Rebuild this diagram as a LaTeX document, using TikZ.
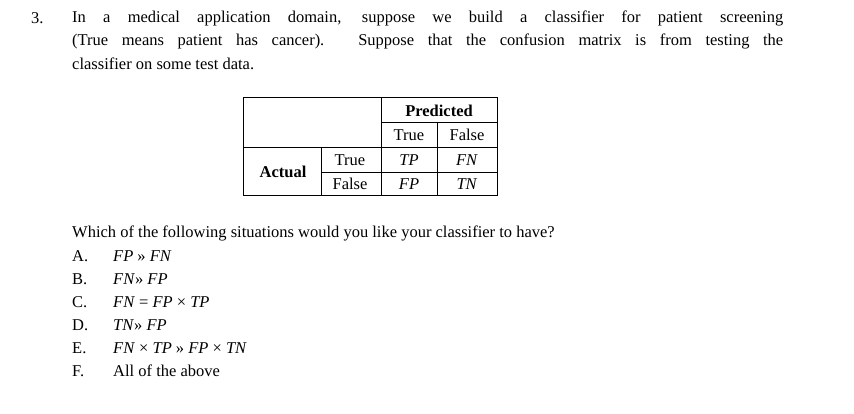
\documentclass[tikz,border=0pt]{standalone}
\usepackage{fontspec}
\setmainfont{Liberation Serif}
\begin{document}
\begin{tikzpicture}[x=1pt,y=-1pt,
  txt/.style={anchor=west,inner sep=0pt,font=\fontsize{16.5}{20}\selectfont},
  cell/.style={inner sep=0pt,font=\fontsize{16.5}{20}\selectfont}]
\useasboundingbox[fill=white] (0,0) rectangle (854,414);
\node[txt] (n3) at (31,18) {3.};
\node[txt] (l1) at (72,18) {\makebox[711pt][s]{In a medical application domain, suppose we build a classifier for patient screening}};
\node[txt] (l2) at (72,41) {\makebox[711pt][s]{(True means patient has cancer). Suppose that the confusion matrix is from testing the}};
\node[txt] (l3) at (72,64) {classifier on some test data.};
% table
\draw[line width=1pt] (243,98) rectangle (497,196);
\draw[line width=0.8pt] (381,98) -- (381,196) (437,122) -- (437,196) (321,147) -- (321,196)
  (381,122) -- (497,122) (243,147) -- (497,147) (321,172) -- (497,172);
\node[cell] (pred) at (439,111) {\textbf{Predicted}};
\node[cell] (pt) at (409,135) {True};
\node[cell] (pf) at (467,135) {False};
\node[cell] (act) at (283,172) {\textbf{Actual}};
\node[cell] (at) at (350,160) {True};
\node[cell] (af) at (350,184) {False};
\node[cell] (tp) at (409,160) {\textit{TP}};
\node[cell] (fn) at (467,160) {\textit{FN}};
\node[cell] (fp) at (409,184) {\textit{FP}};
\node[cell] (tn) at (467,184) {\textit{TN}};
% question
\node[txt] (q) at (72,233) {Which of the following situations would you like your classifier to have?};
\node[txt] (a) at (72,256) {A.};  \node[txt] (at2) at (113,256) {\textit{FP} >> \textit{FN}};
\node[txt] (b) at (72,279) {B.};  \node[txt] (bt) at (113,279) {\textit{FN}>> \textit{FP}};
\node[txt] (c) at (72,302) {C.};  \node[txt] (ct) at (113,302) {\textit{FN} = \textit{FP} × \textit{TP}};
\node[txt] (d) at (72,325) {D.};  \node[txt] (dt) at (113,325) {\textit{TN}>> \textit{FP}};
\node[txt] (e) at (72,348) {E.};  \node[txt] (et) at (113,348) {\textit{FN} × \textit{TP} >> \textit{FP} × \textit{TN}};
\node[txt] (f) at (72,371) {F.};  \node[txt] (ft) at (113,371) {All of the above};
\end{tikzpicture}
\end{document}
